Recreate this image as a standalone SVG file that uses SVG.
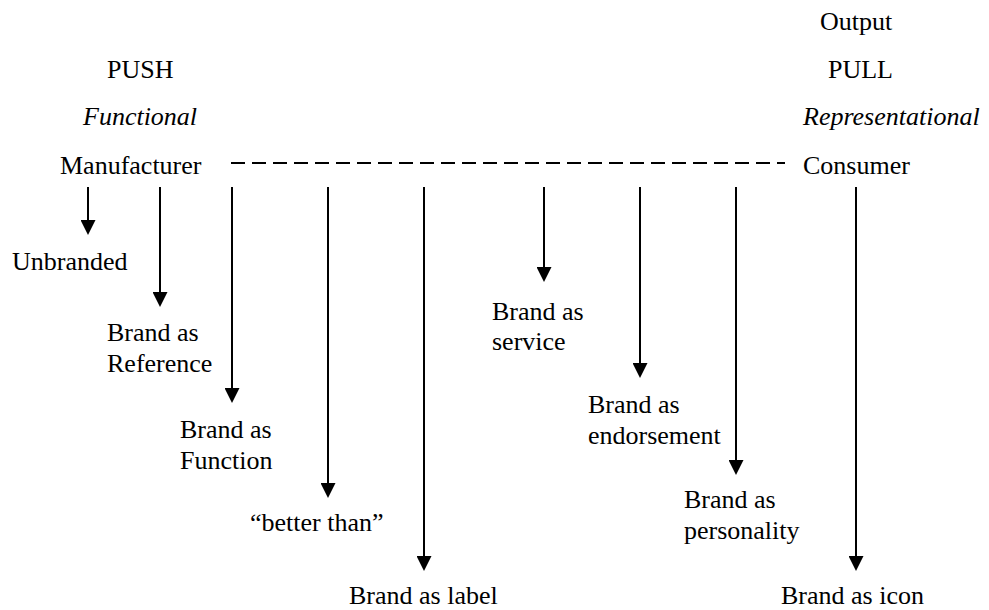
<svg xmlns="http://www.w3.org/2000/svg" width="989" height="610" viewBox="0 0 989 610">
<style>
text{font-family:'Liberation Serif','Times New Roman',serif;font-size:26px;fill:#000}
.it{font-style:italic}
.arr{stroke:#000;stroke-width:2;fill:none;marker-end:url(#ah)}
.dash{stroke:#000;stroke-width:2;stroke-dasharray:14 7;fill:none}
</style>
<defs>
<marker id="ah" viewBox="0 0 15 15" refX="5" refY="7.5" markerWidth="15" markerHeight="15" markerUnits="userSpaceOnUse" orient="auto">
<path d="M0,0 L15,7.5 L0,15 Z" fill="#000"/>
</marker>
</defs>
<rect width="989" height="610" fill="#fff"/>
<g id="header-left">
<text x="107" y="78">PUSH</text>
<text x="83" y="125" class="it">Functional</text>
</g>
<g id="header-right">
<text x="820" y="30">Output</text>
<text x="828" y="78">PULL</text>
<text x="803" y="125" class="it">Representational</text>
</g>
<g id="manufacturer"><text x="60" y="174">Manufacturer</text></g>
<g id="consumer"><text x="803" y="174">Consumer</text></g>
<g id="unbranded"><text x="12" y="270">Unbranded</text></g>
<g id="reference"><text x="107" y="341">Brand as</text><text x="107" y="372">Reference</text></g>
<g id="function"><text x="180" y="438">Brand as</text><text x="180" y="469">Function</text></g>
<g id="better"><text x="250" y="531">“better than”</text></g>
<g id="label"><text x="349" y="604">Brand as label</text></g>
<g id="service"><text x="492" y="320">Brand as</text><text x="492" y="350">service</text></g>
<g id="endorsement"><text x="588" y="413">Brand as</text><text x="588" y="444">endorsement</text></g>
<g id="personality"><text x="684" y="508">Brand as</text><text x="684" y="539">personality</text></g>
<g id="icon"><text x="781" y="604">Brand as icon</text></g>
<g id="connectors">
<line class="dash" x1="231" y1="163" x2="785" y2="163"/>
<line class="arr" x1="88" y1="187" x2="88" y2="225"/>
<line class="arr" x1="160" y1="187" x2="160" y2="297"/>
<line class="arr" x1="232" y1="187" x2="232" y2="393"/>
<line class="arr" x1="328" y1="187" x2="328" y2="488"/>
<line class="arr" x1="424" y1="187" x2="424" y2="561"/>
<line class="arr" x1="544" y1="187" x2="544" y2="272"/>
<line class="arr" x1="640" y1="187" x2="640" y2="368"/>
<line class="arr" x1="736" y1="187" x2="736" y2="465"/>
<line class="arr" x1="856" y1="187" x2="856" y2="561"/>
</g>
</svg>
